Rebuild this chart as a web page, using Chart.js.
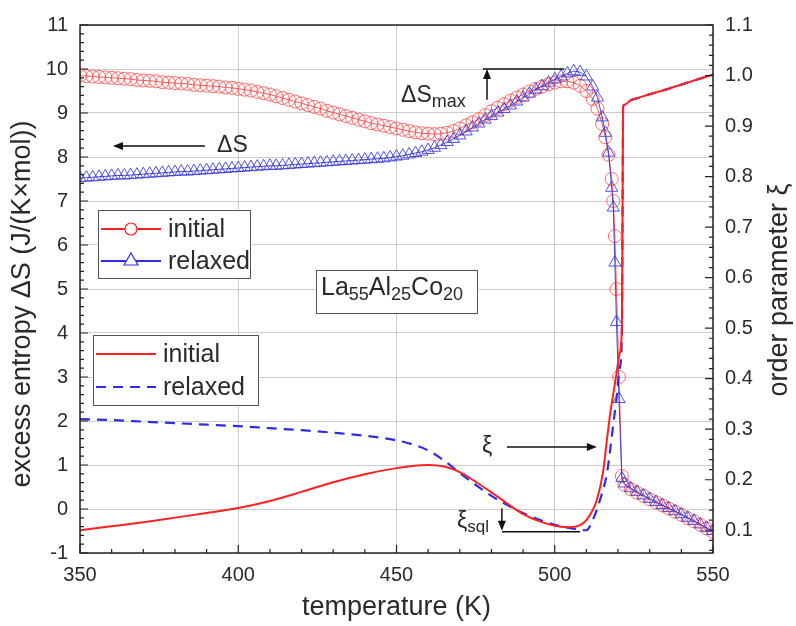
<!DOCTYPE html>
<html>
<head>
<meta charset="utf-8">
<script src="https://cdn.jsdelivr.net/npm/chart.js@4.4.1/dist/chart.umd.min.js"></script>
<style>
  html, body { margin: 0; padding: 0; background: #fff; }
</style>
</head>
<body>
<canvas id="chart" width="796" height="626"></canvas>
<script>
// excess entropy ΔS (left axis)
const tempS = [
  350, 352, 354, 356, 358, 360, 362, 364, 366, 368,
  370, 372, 374, 376, 378, 380, 382, 384, 386, 388,
  390, 392, 394, 396, 398, 400, 402, 404, 406, 408,
  410, 412, 414, 416, 418, 420, 422, 424, 426, 428,
  430, 432, 434, 436, 438, 440, 442, 444, 446, 448,
  450, 452, 454, 456, 458, 460, 462, 464, 466, 468,
  470, 472, 474, 476, 478, 480, 482, 484, 486, 488,
  490, 492, 494, 496, 498, 500, 502, 504, 506, 508,
  510, 512, 513.5, 515, 516, 517, 518, 518.5, 519, 519.5,
  520.3, 521.2,
  522, 524, 526, 528, 530, 532, 534, 536, 538, 540, 542, 544, 546, 548, 550
];
const entropyInitial = [
  9.85, 9.84, 9.83, 9.82, 9.81, 9.80, 9.79, 9.78, 9.77, 9.75,
  9.74, 9.73, 9.72, 9.70, 9.69, 9.68, 9.67, 9.66, 9.64, 9.63,
  9.62, 9.61, 9.60, 9.58, 9.57, 9.55, 9.53, 9.51, 9.48, 9.45,
  9.42, 9.38, 9.34, 9.30, 9.26, 9.22, 9.18, 9.14, 9.10, 9.05,
  9.01, 8.97, 8.93, 8.89, 8.85, 8.81, 8.77, 8.74, 8.71, 8.68,
  8.65, 8.62, 8.59, 8.56, 8.54, 8.53, 8.52, 8.53, 8.55, 8.59,
  8.65, 8.72, 8.79, 8.86, 8.95, 9.04, 9.12, 9.20, 9.28, 9.35,
  9.42, 9.49, 9.55, 9.60, 9.65, 9.69, 9.72, 9.72, 9.69, 9.62,
  9.50, 9.32, 9.10, 8.75, 8.45, 8.05, 7.50, 7.00, 6.20, 5.00,
  3.00, 0.75,
  0.55, 0.45, 0.37, 0.30, 0.22, 0.15, 0.08, 0.01, -0.06, -0.13, -0.21, -0.28, -0.36, -0.44, -0.52
];
const entropyRelaxed = [
  7.52, 7.53, 7.54, 7.55, 7.56, 7.57, 7.58, 7.58, 7.59, 7.60,
  7.61, 7.62, 7.63, 7.64, 7.65, 7.66, 7.67, 7.67, 7.68, 7.69,
  7.70, 7.71, 7.72, 7.73, 7.74, 7.75, 7.76, 7.77, 7.78, 7.79,
  7.80, 7.80, 7.81, 7.82, 7.83, 7.84, 7.85, 7.86, 7.87, 7.88,
  7.89, 7.90, 7.91, 7.92, 7.93, 7.94, 7.95, 7.96, 7.97, 7.99,
  8.01, 8.03, 8.06, 8.09, 8.12, 8.16, 8.21, 8.27, 8.34, 8.41,
  8.49, 8.58, 8.67, 8.76, 8.85, 8.93, 9.01, 9.09, 9.17, 9.26,
  9.35, 9.44, 9.53, 9.61, 9.69, 9.76, 9.83, 9.90, 9.95, 9.93,
  9.83, 9.60, 9.35, 8.90, 8.55, 8.10, 7.30, 6.85, 5.60, 4.25,
  2.50, 0.70,
  0.58, 0.47, 0.39, 0.31, 0.23, 0.16, 0.09, 0.02, -0.05, -0.12, -0.20, -0.27, -0.35, -0.43, -0.50
];

// order parameter ξ (right axis)
const tempXiInitial = [
  350, 360, 370, 380, 390, 400, 410, 420, 430, 440,
  450, 455, 460, 465, 470, 475, 480, 485, 490, 495,
  500, 505, 508, 510, 512, 513.3, 515.2, 516.5, 517.5, 518.5,
  519.5, 520.5, 521.2, 521.4, 521.6, 522, 524, 526, 530, 535,
  540, 545, 550
];
const xiInitial = [
  0.100, 0.108, 0.116, 0.125, 0.134, 0.144, 0.158, 0.176, 0.195, 0.211,
  0.223, 0.227, 0.229, 0.226, 0.215, 0.196, 0.175, 0.153, 0.132, 0.118,
  0.109, 0.106, 0.110, 0.120, 0.140, 0.160, 0.213, 0.280, 0.330, 0.370,
  0.410, 0.450, 0.500, 0.700, 0.938, 0.942, 0.951, 0.955, 0.963, 0.972,
  0.982, 0.992, 1.002
];
const tempXiRelaxed = [
  350, 360, 370, 380, 390, 400, 410, 420, 430, 440,
  450, 455, 460, 465, 470, 475, 480, 485, 490, 495,
  500, 505, 508, 510, 512, 514.3, 516.5, 517.5, 518.5, 519.5,
  520.5, 521.2, 521.4, 521.6, 522, 524, 526, 530, 535, 540,
  545, 550
];
const xiRelaxed = [
  0.320, 0.318, 0.315, 0.312, 0.309, 0.306, 0.302, 0.298, 0.293, 0.287,
  0.278, 0.270, 0.258, 0.238, 0.213, 0.190, 0.168, 0.150, 0.134, 0.121,
  0.111, 0.104, 0.101, 0.100, 0.120, 0.160, 0.213, 0.259, 0.310, 0.360,
  0.420, 0.480, 0.700, 0.938, 0.942, 0.951, 0.955, 0.963, 0.972, 0.982,
  0.992, 1.002
];

const tempTicks = [350, 400, 450, 500, 550];
const entropyTicks = [-1, 0, 1, 2, 3, 4, 5, 6, 7, 8, 9, 10, 11];
const xiTicks = [0.1, 0.2, 0.3, 0.4, 0.5, 0.6, 0.7, 0.8, 0.9, 1.0, 1.1];

const RED = '#ff2020';
const BLUE = '#2d2de6';
const FONT = "'Liberation Sans', Arial, sans-serif";
const TEXT = '#2a2a2a';

Chart.defaults.font.family = FONT;
Chart.defaults.color = TEXT;

const pts = (xs, ys) => xs.map((x, i) => ({ x, y: ys[i] }));

function arrow(ctx, x1, y1, x2, y2) {
  const ang = Math.atan2(y2 - y1, x2 - x1);
  ctx.beginPath();
  ctx.moveTo(x1, y1);
  ctx.lineTo(x2 - 6 * Math.cos(ang), y2 - 6 * Math.sin(ang));
  ctx.stroke();
  ctx.beginPath();
  ctx.moveTo(x2, y2);
  ctx.lineTo(x2 - 10 * Math.cos(ang) + 4 * Math.sin(ang), y2 - 10 * Math.sin(ang) - 4 * Math.cos(ang));
  ctx.lineTo(x2 - 10 * Math.cos(ang) - 4 * Math.sin(ang), y2 - 10 * Math.sin(ang) + 4 * Math.cos(ang));
  ctx.closePath();
  ctx.fill();
}

// text with subscript pieces, e.g. ΔS + max
function subText(ctx, parts, x, y, big, small) {
  parts.forEach(([s, sub]) => {
    ctx.font = (sub ? small : big) + 'px ' + FONT;
    ctx.fillText(s, x, sub ? y + big * 0.28 : y);
    x += ctx.measureText(s).width;
  });
}

function vTitle(ctx, text, cx, cy, size) {
  ctx.save();
  ctx.translate(cx, cy);
  ctx.rotate(-Math.PI / 2);
  ctx.textAlign = 'center';
  ctx.textBaseline = 'middle';
  ctx.font = size + 'px ' + FONT;
  ctx.fillStyle = TEXT;
  ctx.fillText(text, 0, 0);
  ctx.restore();
}

function legendBox(ctx, bx, by, bw, bh, rows) {
  ctx.fillStyle = '#fff';
  ctx.fillRect(bx, by, bw, bh);
  ctx.strokeStyle = '#555';
  ctx.lineWidth = 1;
  ctx.setLineDash([]);
  ctx.strokeRect(bx + 0.5, by + 0.5, bw, bh);
  rows.forEach(r => {
    const ry = by + r.dy;
    ctx.strokeStyle = r.color;
    ctx.lineWidth = 2;
    ctx.setLineDash(r.dash || []);
    ctx.beginPath();
    ctx.moveTo(bx + 3, ry);
    ctx.lineTo(bx + 63, ry);
    ctx.stroke();
    ctx.setLineDash([]);
    ctx.lineWidth = 1.2;
    if (r.marker === 'circle') {
      ctx.fillStyle = '#fff';
      ctx.beginPath();
      ctx.arc(bx + 33, ry, 6, 0, Math.PI * 2);
      ctx.fill();
      ctx.stroke();
    } else if (r.marker === 'triangle') {
      ctx.fillStyle = '#fff';
      ctx.beginPath();
      ctx.moveTo(bx + 33, ry - 8);
      ctx.lineTo(bx + 40, ry + 4);
      ctx.lineTo(bx + 26, ry + 4);
      ctx.closePath();
      ctx.fill();
      ctx.stroke();
    }
    ctx.fillStyle = TEXT;
    ctx.font = '25px ' + FONT;
    ctx.textBaseline = 'middle';
    ctx.textAlign = 'left';
    ctx.fillText(r.text, bx + 70, ry + 1);
  });
}

const decor = {
  id: 'decor',
  afterDatasetsDraw(chart) {
    const { ctx, chartArea: a, scales: { x, y, y2 } } = chart;
    ctx.save();

    // frame
    ctx.strokeStyle = '#222';
    ctx.lineWidth = 1.5;
    ctx.strokeRect(a.left, a.top, a.right - a.left, a.bottom - a.top);

    // inward major and minor ticks
    ctx.lineWidth = 1.2;
    ctx.beginPath();
    for (let v = 350; v <= 550; v += 10) {
      const px = x.getPixelForValue(v);
      const len = v % 50 === 0 ? 8 : 4;
      ctx.moveTo(px, a.bottom);
      ctx.lineTo(px, a.bottom - len);
    }
    for (let i = -5; i <= 55; i++) {
      const py = y.getPixelForValue(i / 5);
      const len = i % 5 === 0 ? 8 : 4;
      ctx.moveTo(a.left, py);
      ctx.lineTo(a.left + len, py);
    }
    for (let i = 3; i <= 55; i++) {
      const py = y2.getPixelForValue(i / 50);
      const len = i % 5 === 0 ? 8 : 4;
      ctx.moveTo(a.right, py);
      ctx.lineTo(a.right - len, py);
    }
    ctx.stroke();

    // annotations
    ctx.strokeStyle = '#111';
    ctx.fillStyle = '#111';
    ctx.lineWidth = 1.5;
    // ΔSmax
    ctx.beginPath();
    ctx.moveTo(x.getPixelForValue(477.3), y.getPixelForValue(10));
    ctx.lineTo(x.getPixelForValue(503), y.getPixelForValue(10));
    ctx.stroke();
    const smx = x.getPixelForValue(478.6);
    arrow(ctx, smx, y.getPixelForValue(9.3), smx, y.getPixelForValue(10));
    // ΔS pointing to the left axis
    const sy = y.getPixelForValue(8.25);
    arrow(ctx, x.getPixelForValue(389.5), sy, x.getPixelForValue(360.4), sy);
    // ξ pointing to the right axis
    const xy = y2.getPixelForValue(0.265);
    arrow(ctx, x.getPixelForValue(484.9), xy, x.getPixelForValue(513.3), xy);
    // ξsql
    const qx = x.getPixelForValue(483.3);
    ctx.beginPath();
    ctx.moveTo(qx, y2.getPixelForValue(0.097));
    ctx.lineTo(x.getPixelForValue(508), y2.getPixelForValue(0.097));
    ctx.stroke();
    arrow(ctx, qx, y2.getPixelForValue(0.143), qx, y2.getPixelForValue(0.099));

    ctx.fillStyle = TEXT;
    ctx.textBaseline = 'middle';
    ctx.textAlign = 'left';
    subText(ctx, [['ΔS', false], ['max', true]], smx - 86, y.getPixelForValue(9.4), 23, 18);
    subText(ctx, [['ΔS', false]], x.getPixelForValue(393.3), sy, 23, 18);
    subText(ctx, [['ξ', false]], x.getPixelForValue(477), xy, 23, 18);
    subText(ctx, [['ξ', false], ['sql', true]], qx - 45, y2.getPixelForValue(0.118), 23, 17);

    // composition label
    ctx.fillStyle = '#fff';
    ctx.fillRect(316, 270, 161, 43);
    ctx.strokeStyle = '#555';
    ctx.lineWidth = 1;
    ctx.strokeRect(316.5, 270.5, 161, 43);
    ctx.fillStyle = TEXT;
    subText(ctx, [['La', false], ['55', true], ['Al', false], ['25', true], ['Co', false], ['20', true]], 321, 288, 25, 18);

    // legends
    legendBox(ctx, 98, 210, 152, 68, [
      { dy: 19, color: RED, marker: 'circle', text: 'initial' },
      { dy: 51, color: BLUE, marker: 'triangle', text: 'relaxed' }
    ]);
    legendBox(ctx, 93, 335, 165, 70, [
      { dy: 19, color: RED, text: 'initial' },
      { dy: 52, color: BLUE, dash: [10, 7], text: 'relaxed' }
    ]);

    // axis titles, both reading bottom to top
    vTitle(ctx, 'excess entropy ΔS (J/(K×mol))', 23, 304, 27);
    vTitle(ctx, 'order parameter ξ', 780, 290, 27);

    ctx.restore();
  }
};

const ctx = document.getElementById('chart').getContext('2d');

new Chart(ctx, {
  type: 'scatter',
  data: {
    datasets: [
      {
        label: 'ΔS initial',
        data: pts(tempS, entropyInitial),
        yAxisID: 'y',
        showLine: true,
        borderColor: 'rgba(255,60,60,0.85)',
        borderWidth: 1,
        pointStyle: 'circle',
        pointRadius: 6.5,
        pointBorderWidth: 1,
        pointBorderColor: 'rgba(255,80,80,0.85)',
        pointBackgroundColor: 'rgba(255,255,255,0)',
        order: 4
      },
      {
        label: 'ΔS relaxed',
        data: pts(tempS, entropyRelaxed),
        yAxisID: 'y',
        showLine: true,
        borderColor: 'rgba(50,50,200,0.9)',
        borderWidth: 1,
        pointStyle: 'triangle',
        pointRadius: 7,
        pointBorderWidth: 1,
        pointBorderColor: 'rgba(55,55,215,0.85)',
        pointBackgroundColor: 'rgba(255,255,255,0)',
        order: 3
      },
      {
        label: 'ξ relaxed',
        data: pts(tempXiRelaxed, xiRelaxed),
        yAxisID: 'y2',
        showLine: true,
        borderColor: BLUE,
        borderWidth: 2.2,
        borderDash: [10, 7],
        pointRadius: 0,
        cubicInterpolationMode: 'monotone',
        order: 2
      },
      {
        label: 'ξ initial',
        data: pts(tempXiInitial, xiInitial),
        yAxisID: 'y2',
        showLine: true,
        borderColor: RED,
        borderWidth: 2,
        pointRadius: 0,
        cubicInterpolationMode: 'monotone',
        order: 1
      }
    ]
  },
  options: {
    responsive: false,
    animation: false,
    layout: { padding: { top: 25, left: 0, right: 0, bottom: 0 } },
    plugins: {
      legend: { display: false },
      tooltip: { enabled: false }
    },
    scales: {
      x: {
        type: 'linear',
        min: 350,
        max: 550,
        afterBuildTicks: s => { s.ticks = tempTicks.map(v => ({ value: v })); },
        afterFit: s => { s.height = 73; },
        ticks: { font: { size: 20 }, color: TEXT, padding: 10, maxRotation: 0 },
        grid: { color: '#cdcdcd', drawTicks: false },
        border: { display: false },
        title: { display: true, text: 'temperature (K)', font: { size: 27 }, color: TEXT, padding: { top: 0, bottom: 2 } }
      },
      y: {
        position: 'left',
        min: -1,
        max: 11,
        afterBuildTicks: s => { s.ticks = entropyTicks.map(v => ({ value: v })); },
        afterFit: s => { s.width = 80; },
        ticks: { font: { size: 20 }, color: TEXT, padding: 12 },
        grid: { color: '#cdcdcd', drawTicks: false },
        border: { display: false }
      },
      y2: {
        position: 'right',
        min: 0.055,
        max: 1.1,
        afterBuildTicks: s => { s.ticks = xiTicks.map(v => ({ value: v })); },
        afterFit: s => { s.width = 83; },
        ticks: { font: { size: 20 }, color: TEXT, padding: 12, callback: v => v.toFixed(1) },
        grid: { display: false, drawTicks: false },
        border: { display: false }
      }
    }
  },
  plugins: [decor]
});
</script>
</body>
</html>
